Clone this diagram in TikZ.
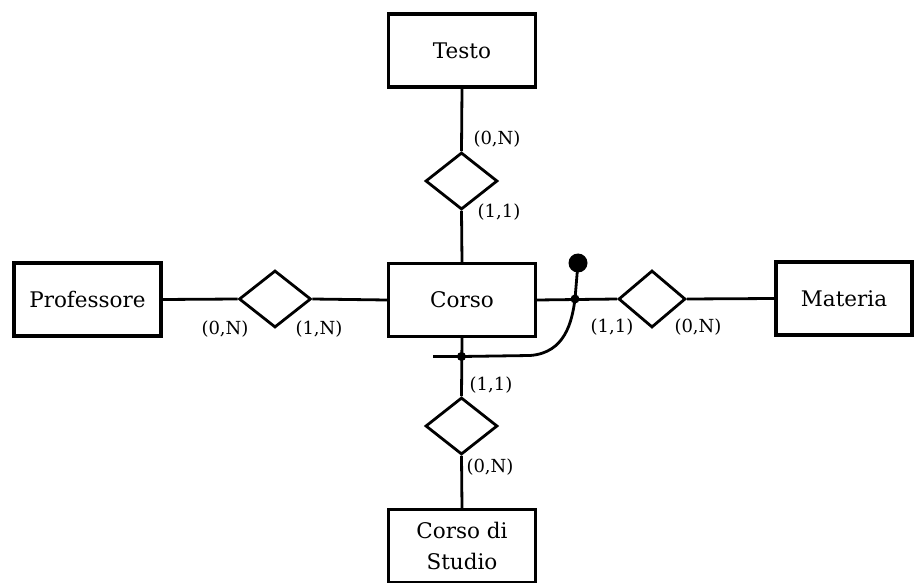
\documentclass[tikz,border=0pt]{standalone}
\usepackage{fontspec}
\setmainfont{DejaVu Serif}
\usetikzlibrary{shapes.geometric}
\begin{document}
\begin{tikzpicture}[x=1pt,y=-1pt,
  ent/.style={draw, line width=3.2pt, minimum width=147pt, minimum height=73pt, inner sep=0pt, font=\fontsize{21.5}{31}\selectfont, align=center},
  rel/.style={draw, diamond, line width=2.8pt, minimum width=72pt, minimum height=57pt, inner sep=0pt},
  lnk/.style={line width=2.8pt},
  card/.style={font=\fontsize{18}{21}\selectfont, inner sep=0pt},
  dotsmall/.style={fill, circle, inner sep=0pt, minimum size=9pt}]
\useasboundingbox (0,0) rectangle (914,583);
\node[ent] (testo) at (462,50.5) {Testo};
\node[ent] (corso) at (462,300) {Corso};
\node[ent] (prof) at (87.5,299.5) {Professore};
\node[ent, minimum width=136pt] (mat) at (844,298.5) {Materia};
\node[ent] (cds) at (462,546) {Corso di\\Studio};
\node[rel] (rt) at (461.5,181) {};
\node[rel] (rl) at (275,299) {};
\node[rel, minimum width=67pt] (rr) at (652,299) {};
\node[rel] (rb) at (461.5,426) {};
\draw[lnk] (testo.south) -- (rt.north);
\draw[lnk] (rt.south) -- (corso.north);
\draw[lnk] (prof.east) -- (rl.west);
\draw[lnk] (rl.east) -- (corso.west);
\draw[lnk] (corso.east) -- (rr.west);
\draw[lnk] (rr.east) -- (mat.west);
\draw[lnk] (corso.south) -- (rb.north);
\draw[lnk] (rb.south) -- (cds.north);
\node[card] (c1) at (497,139) {(0,N)};
\node[card] (c2) at (499,212) {(1,1)};
\node[card] (c3) at (225,329) {(0,N)};
\node[card] (c4) at (319,329) {(1,N)};
\node[card] (c5) at (612,327) {(1,1)};
\node[card] (c6) at (698,327) {(0,N)};
\node[card] (c7) at (491,385) {(1,1)};
\node[card] (c8) at (490,467) {(0,N)};
\coordinate (dA) at (575,299);
\coordinate (dB) at (461.5,356.5);
\coordinate (idstart) at (433,356.5);
\coordinate (idend) at (578,263);
\draw[lnk] (idstart) -- (dB) -- (530,355.5) .. controls (565,353) and (572,322) .. (dA) -- (idend);
\node[dotsmall] (pA) at (dA) {};
\node[dotsmall] (pB) at (dB) {};
\node[fill, circle, inner sep=0pt, minimum size=19pt] (big) at (idend) {};
\end{tikzpicture}
\end{document}
